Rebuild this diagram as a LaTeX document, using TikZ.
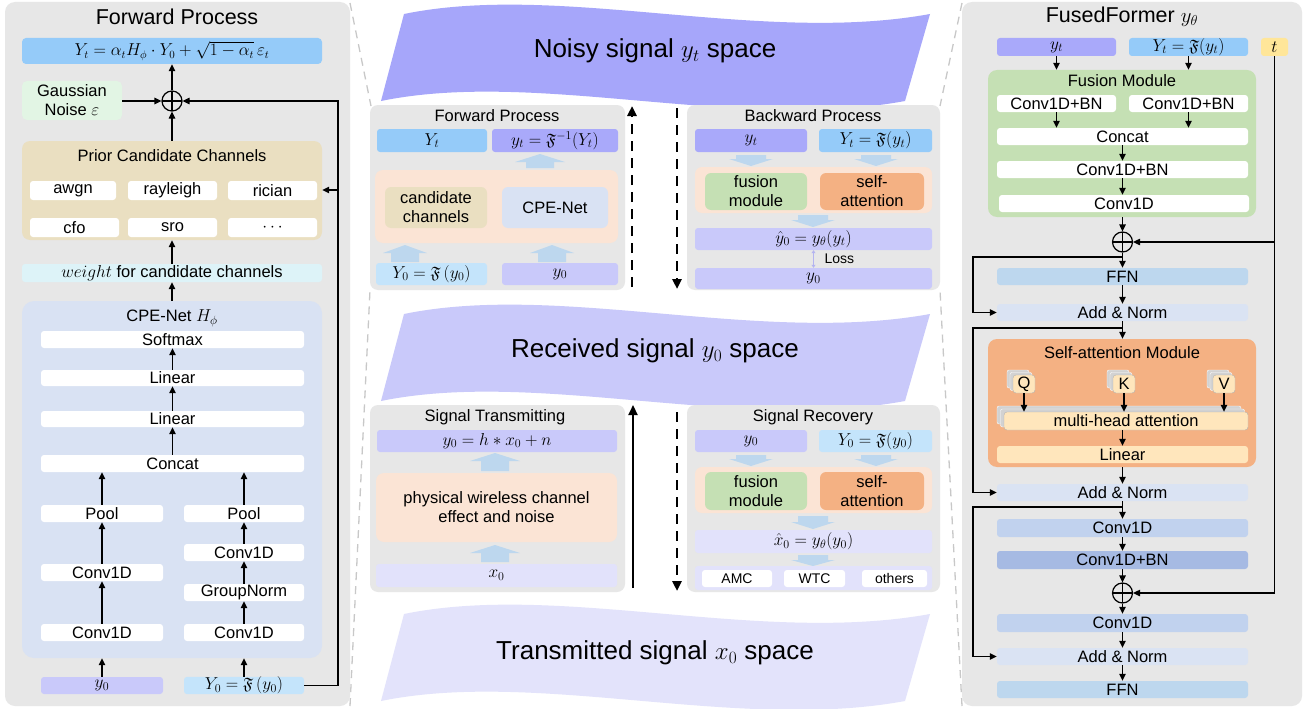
\documentclass[tikz,border=0pt]{standalone}
\usepackage{amssymb}
\usepackage{fontspec}
\setmainfont{Liberation Sans}
\usetikzlibrary{arrows.meta,calc}
\definecolor{panel}{HTML}{E7E7E7}
\definecolor{cBlue}{HTML}{95CBF9}
\definecolor{cPurple}{HTML}{A9A9FA}
\definecolor{cLav}{HTML}{C9C9FA}
\definecolor{cLight}{HTML}{E2E2FB}
\definecolor{cLBlue}{HTML}{C4E4FB}
\definecolor{cMint}{HTML}{E2F5E4}
\definecolor{cCyan}{HTML}{DDF3F8}
\definecolor{cKhaki}{HTML}{EADFC1}
\definecolor{cCPE}{HTML}{D9E2F3}
\definecolor{cPeach}{HTML}{FBE4D5}
\definecolor{cGreen}{HTML}{C5E0B4}
\definecolor{cOrange}{HTML}{F4B183}
\definecolor{cArrow}{HTML}{BDD7EE}
\definecolor{cFFN}{HTML}{BDD7EE}
\definecolor{cAN}{HTML}{DAE3F3}
\definecolor{cConv}{HTML}{C1D2EE}
\definecolor{cConvBN}{HTML}{A6BAE3}
\definecolor{cLinear}{HTML}{FFE6BC}
\definecolor{cYellow}{HTML}{FFE699}
\definecolor{cShadow}{HTML}{D2D2D2}
\definecolor{cDash}{HTML}{C8C8C8}
\definecolor{cRibA}{HTML}{A6A6FA}
\definecolor{cRibB}{HTML}{C9C9FA}
\definecolor{cRibC}{HTML}{E3E3FB}
\definecolor{cLoss}{HTML}{B4B4F0}
\newcommand\fs{\fontsize{16.5}{19}\selectfont}
\newcommand\fsmall{\fontsize{14}{16}\selectfont}
\newcommand\ftitle{\fontsize{21.5}{25}\selectfont}
\newcommand\frib{\fontsize{26}{30}\selectfont}
\tikzset{
  bx/.style={inner sep=0pt, align=center, rounded corners=3pt, font=\fs},
  ttl/.style={inner sep=0pt, font=\ftitle},
  arr/.style={-{Triangle[length=7pt,width=6.5pt]}, line width=1.2pt},
  op/.style={circle, draw, line width=1.2pt, minimum size=20pt, inner sep=0pt,
    path picture={\draw[line width=1.2pt] (path picture bounding box.north)--(path picture bounding box.south) (path picture bounding box.west)--(path picture bounding box.east);}},
  zoomline/.style={draw=cDash, line width=1.3pt, dash pattern=on 8pt off 6pt},
  bigdash/.style={line width=2.6pt, dash pattern=on 10pt off 7pt, -{Triangle[length=10pt,width=9pt]}},
}
\newcommand\bx[7]{\node[bx,#6,minimum width={#4-#2},minimum height={#5-#3}] (#1) at ({(#2+#4)/2},{(#3+#5)/2}) {#7};}
\newcommand\bup[6]{\fill[cArrow] ({#1-#4},#2) -- ({#1-#4},{#3+#6}) -- ({#1-#5},{#3+#6}) -- (#1,#3) -- ({#1+#5},{#3+#6}) -- ({#1+#4},{#3+#6}) -- ({#1+#4},#2) -- cycle;}
\newcommand\bdown[6]{\fill[cArrow] ({#1-#4},#2) -- ({#1-#4},{#3-#6}) -- ({#1-#5},{#3-#6}) -- (#1,#3) -- ({#1+#5},{#3-#6}) -- ({#1+#4},{#3-#6}) -- ({#1+#4},#2) -- cycle;}
\newcommand\ribbon[2]{\fill[#2] (404,{14+#1}) .. controls (560,{-18+#1}) and (760,{45+#1}) .. (930,{14+#1}) -- (905,{101+#1}) .. controls (737,{132+#1}) and (537,{69+#1}) .. (381,{101+#1}) -- cycle;}
\newcommand\qkv[4]{%
  \fill[cShadow,draw=white,rounded corners=2pt] ({#2-17},{#3-14}) rectangle ({#2+5},{#3+4});
  \fill[cShadow,draw=white,rounded corners=2pt] ({#2-14},{#3-11.5}) rectangle ({#2+8},{#3+6.5});
  \node[bx,fill=cLinear,draw=gray!60,minimum width=22,minimum height=18] (#1) at (#2,#3) {#4};}
\begin{document}
\begin{tikzpicture}[x=1pt,y=-1pt]
\useasboundingbox (0,0) rectangle (1307,709);
\fill[white] (0,0) rectangle (1307,709);
% zoom dashed lines
\draw[zoomline] (350,3) -- (371,106);
\draw[zoomline] (350,706) -- (370,290);
\draw[zoomline] (962,3) -- (940,106);
\draw[zoomline] (962,706) -- (940,290);
% ribbons
\ribbon{0}{cRibA}
\ribbon{300}{cRibB}
\ribbon{600}{cRibC}
\node[font=\frib] (ribA) at (655,51) {Noisy signal $y_t$ space};
\node[font=\frib] (ribB) at (655,351) {Received signal $y_0$ space};
\node[font=\frib] (ribC) at (655,653) {Transmitted signal $x_0$ space};

% ================= LEFT PANEL =================
\fill[panel,rounded corners=10pt] (5,2) rectangle (350,706);
\node[ttl] (lt) at (177,17) {Forward Process};
\bx{fml}{22}{38}{322}{64}{fill=cBlue,rounded corners=4pt}{\fontsize{16}{18}\selectfont$Y_t=\alpha_t H_\phi\cdot Y_0+\sqrt{1-\alpha_t}\,\varepsilon_t$}
\node[op] (op1) at (172,101) {};
\bx{gn}{22}{81}{122}{120}{fill=cMint,rounded corners=5pt}{Gaussian\\Noise $\varepsilon$}
\bx{prior}{22}{141}{322}{240}{fill=cKhaki,rounded corners=8pt}{}
\node[font=\fs] (priort) at (172,156) {Prior Candidate Channels};
\bx{awgn}{30}{181}{116}{200}{fill=white}{awgn}
\bx{ray}{128}{181}{217}{200}{fill=white}{rayleigh}
\bx{ric}{228}{181}{317}{200}{fill=white}{rician}
\bx{cfo}{30}{218}{119}{237}{fill=white}{cfo}
\bx{sro}{128}{218}{217}{237}{fill=white}{sro}
\bx{dots}{228}{218}{317}{237}{fill=white}{$\cdots$}
\bx{wt}{22}{264}{322}{282}{fill=cCyan}{$weight$ for candidate channels}
\bx{cpe}{22}{301}{322}{658}{fill=cCPE,rounded corners=12pt}{}
\node[font=\fs] (cpet) at (172,318) {CPE-Net $H_\phi$};
\bx{soft}{41}{331}{304}{348}{fill=white}{Softmax}
\bx{linA}{41}{370}{304}{386}{fill=white}{Linear}
\bx{linB}{41}{411}{304}{427}{fill=white}{Linear}
\bx{concat}{41}{455}{304}{472}{fill=white}{Concat}
\bx{poolL}{41}{505}{163}{522}{fill=white}{Pool}
\bx{convLA}{41}{564}{163}{581}{fill=white}{Conv1D}
\bx{convLB}{41}{624}{163}{641}{fill=white}{Conv1D}
\bx{poolR}{184}{505}{304}{522}{fill=white}{Pool}
\bx{convRA}{184}{544}{304}{561}{fill=white}{Conv1D}
\bx{gnorm}{184}{584}{304}{601}{fill=white}{GroupNorm}
\bx{convRB}{184}{624}{304}{641}{fill=white}{Conv1D}
\bx{y0in}{41}{677}{163}{694}{fill=cLav}{$y_0$}
\bx{Y0in}{184}{677}{304}{694}{fill=cLBlue}{$Y_0=\mathfrak{F}\,(y_0)$}
% arrows left
\draw[arr] (op1.north) -- (op1.north |- fml.south);
\draw[arr] (gn.east |- op1) -- (op1.west);
\draw[arr] (op1.south |- prior.north) -- (op1.south);
\draw[arr] (wt.north) -- (prior.south);
\draw[arr] (cpe.north) -- (wt.south);
\draw[arr] (linA.north) -- (soft.south);
\draw[arr] (linB.north) -- (linA.south);
\draw[arr] (concat.north) -- (linB.south);
\draw[arr] (poolL.north) -- (poolL.north |- concat.south);
\draw[arr] (poolR.north) -- (poolR.north |- concat.south);
\draw[arr] (convLA.north) -- (poolL.south);
\draw[arr] (convLB.north) -- (convLA.south);
\draw[arr] (convRA.north) -- (poolR.south);
\draw[arr] (gnorm.north) -- (convRA.south);
\draw[arr] (convRB.north) -- (gnorm.south);
\draw[arr] (y0in.north) -- (y0in.north |- cpe.south);
\draw[arr] (Y0in.north) -- (Y0in.north |- cpe.south);
\coordinate (rc) at (338,101);
\coordinate (rj) at (338,190);
\draw[arr] (Y0in.east) -| (rc) -- (op1.east);
\draw[arr] (rj) -- (rj -| prior.east);

% ================= MIDDLE: FORWARD =================
\fill[panel,rounded corners=8pt] (370,105) rectangle (625,290);
\node[font=\fs] (fwt) at (497,116) {Forward Process};
\bx{fYt}{377}{129}{487}{152}{fill=cBlue}{$Y_t$}
\bx{fyt}{492}{129}{618}{152}{fill=cPurple}{$y_t=\mathfrak{F}^{-1}(Y_t)$}
\bx{fpeach}{375}{170}{618}{243}{fill=cPeach,rounded corners=8pt}{}
\bx{cand}{385}{187}{487}{228}{fill=cKhaki,rounded corners=6pt}{candidate\\channels}
\bx{cpeb}{502}{187}{608}{228}{fill=cCPE,rounded corners=6pt}{CPE-Net}
\bx{fY0}{376}{263}{487}{285}{fill=cLBlue}{$Y_0=\mathfrak{F}\,(y_0)$}
\bx{fy0}{502}{263}{618}{285}{fill=cLav}{$y_0$}
\bup{540}{168}{154}{14}{25}{8}
\bup{405}{262}{245}{14}{22}{8}
\bup{552}{262}{245}{14}{22}{8}
\coordinate (dA1) at (632,287);
\coordinate (dA2) at (632,106);
\draw[bigdash] (dA1) -- (dA2);
\coordinate (dB1) at (677,108);
\coordinate (dB2) at (677,289);
\draw[bigdash] (dB1) -- (dB2);

% ================= MIDDLE: BACKWARD =================
\fill[panel,rounded corners=8pt] (687,105) rectangle (940,290);
\node[font=\fs] (bwt) at (813,116) {Backward Process};
\bx{byt}{695}{129}{807}{152}{fill=cPurple}{$y_t$}
\bx{bYt}{819}{129}{932}{152}{fill=cBlue}{$Y_t=\mathfrak{F}(y_t)$}
\bdown{751}{155}{166}{15}{22}{7}
\bdown{876}{155}{166}{15}{22}{7}
\bx{bpeach}{695}{167}{932}{213}{fill=cPeach,rounded corners=7pt}{}
\bx{bfus}{705}{173}{807}{210}{fill=cGreen,rounded corners=6pt}{fusion\\module}
\bx{bsa}{820}{173}{924}{210}{fill=cOrange,rounded corners=6pt}{self-\\attention}
\bdown{813}{215}{227}{15}{22}{7}
\bx{byhat}{695}{228}{932}{250}{fill=cLav}{$\hat y_0=y_\theta(y_t)$}
\bx{by0}{695}{268}{932}{289}{fill=cLav}{$y_0$}
\draw[cLoss,line width=1.5pt,{Triangle[length=3pt,width=4pt]}-{Triangle[length=3pt,width=4pt]}] (byhat.south) -- (by0.north);
\node[font=\fsmall,anchor=west] (loss) at (821,259) {Loss};

% ================= MIDDLE: TRANSMIT =================
\fill[panel,rounded corners=8pt] (370,405) rectangle (625,592);
\node[font=\fs] (stt) at (495,417) {Signal Transmitting};
\bx{st1}{377}{430}{617}{452}{fill=cLav}{$y_0=h*x_0+n$}
\bx{tpeach}{376}{473}{617}{542}{fill=cPeach,rounded corners=8pt}{physical wireless channel\\effect and noise}
\bx{x0}{376}{564}{617}{587}{fill=cLight}{$x_0$}
\bup{495}{471}{453}{14}{25}{8}
\bup{495}{562}{545}{14}{25}{8}
\coordinate (sA1) at (633,588);
\coordinate (sA2) at (633,405);
\draw[line width=2.2pt,-{Triangle[length=10pt,width=9pt]}] (sA1) -- (sA2);
\coordinate (dC1) at (677,412);
\coordinate (dC2) at (677,591);
\draw[bigdash] (dC1) -- (dC2);

% ================= MIDDLE: RECOVERY =================
\fill[panel,rounded corners=8pt] (687,405) rectangle (940,592);
\node[font=\fs] (srt) at (813,417) {Signal Recovery};
\bx{ry0}{695}{430}{807}{452}{fill=cLav}{$y_0$}
\bx{rY0}{819}{430}{932}{452}{fill=cLBlue}{$Y_0=\mathfrak{F}(y_0)$}
\bdown{751}{455}{466}{15}{22}{7}
\bdown{876}{455}{466}{15}{22}{7}
\bx{rpeach}{695}{467}{932}{513}{fill=cPeach,rounded corners=7pt}{}
\bx{rfus}{705}{472}{807}{510}{fill=cGreen,rounded corners=6pt}{fusion\\module}
\bx{rsa}{820}{472}{924}{510}{fill=cOrange,rounded corners=6pt}{self-\\attention}
\bdown{813}{516}{529}{15}{22}{7}
\bx{rxhat}{695}{530}{932}{553}{fill=cLight}{$\hat x_0=y_\theta(y_0)$}
\bdown{813}{555}{566}{15}{22}{6}
\bx{rrow}{695}{566}{932}{590}{fill=cLight}{}
\bx{amc}{702}{570}{772}{587}{fill=white,font=\fsmall}{AMC}
\bx{wtc}{784}{570}{845}{587}{fill=white,font=\fsmall}{WTC}
\bx{oth}{862}{570}{927}{587}{fill=white,font=\fsmall}{others}

% ================= RIGHT PANEL =================
\fill[panel,rounded corners=10pt] (962,2) rectangle (1302,706);
\node[ttl] (rt) at (1122,17) {FusedFormer $y_\theta$};
\bx{in1}{997}{38}{1116}{56}{fill=cPurple}{$y_t$}
\bx{in2}{1129}{38}{1248}{56}{fill=cBlue}{$Y_t=\mathfrak{F}(y_t)$}
\bx{tin}{1261}{38}{1288}{56}{fill=cYellow}{$t$}
\bx{fm}{988}{70}{1256}{217}{fill=cGreen,rounded corners=9pt}{}
\node[font=\fs] (fmt) at (1122,81) {Fusion Module};
\bx{c1}{997}{95}{1116}{112}{fill=white}{Conv1D+BN}
\bx{c2}{1129}{95}{1248}{112}{fill=white}{Conv1D+BN}
\bx{cat}{997}{128}{1248}{145}{fill=white}{Concat}
\bx{cbn}{997}{161}{1248}{178}{fill=white}{Conv1D+BN}
\bx{cv}{999}{195}{1249}{212}{fill=white}{Conv1D}
\node[op] (op2) at (1122.5,242) {};
\bx{ffnA}{997}{268}{1248}{285}{fill=cFFN}{FFN}
\bx{anA}{997}{304}{1248}{321}{fill=cAN}{Add \& Norm}
\bx{sam}{988}{339}{1256}{467}{fill=cOrange,rounded corners=9pt}{}
\node[font=\fs] (samt) at (1122,353) {Self-attention Module};
\qkv{Q}{1024}{384}{Q}
\qkv{K}{1124}{384}{K}
\qkv{V}{1224}{384}{V}
\fill[cShadow,draw=white,rounded corners=2pt] (997,406) rectangle (1241,424);
\fill[cShadow,draw=white,rounded corners=2pt] (1000.5,409) rectangle (1244.5,427);
\bx{mha}{1004}{412}{1248}{430}{fill=cLinear,draw=gray!60}{multi-head attention}
\bx{lin}{997}{446}{1248}{463}{fill=cLinear}{Linear}
\bx{anB}{997}{484}{1248}{501}{fill=cAN}{Add \& Norm}
\bx{cvA}{997}{519}{1248}{537}{fill=cConv}{Conv1D}
\bx{cvBN}{997}{551}{1248}{569}{fill=cConvBN}{Conv1D+BN}
\node[op] (op3) at (1122.5,593) {};
\bx{cvB}{997}{614}{1248}{632}{fill=cConv}{Conv1D}
\bx{anC}{997}{648}{1248}{665}{fill=cAN}{Add \& Norm}
\bx{ffnB}{997}{681}{1248}{698}{fill=cFFN}{FFN}
% right arrows
\draw[arr] (in1.south) -- (in1.south |- fm.north);
\draw[arr] (in2.south) -- (in2.south |- fm.north);
\draw[arr] (c1.south) -- (c1.south |- cat.north);
\draw[arr] (c2.south) -- (c2.south |- cat.north);
\draw[arr] (op2 |- cat.south) -- (op2 |- cbn.north);
\draw[arr] (op2 |- cbn.south) -- (op2 |- cv.north);
\draw[arr] (op2 |- fm.south) -- (op2.north);
\draw[arr] (op2.south) -- (op2 |- ffnA.north);
\draw[arr] (op2 |- ffnA.south) -- (op2 |- anA.north);
\draw[arr] (op2 |- anA.south) -- (op2 |- sam.north);
\draw[arr] (Q.south) -- (Q.south |- mha.north);
\draw[arr] (K.south) -- (K.south |- mha.north);
\draw[arr] (V.south) -- (V.south |- mha.north);
\draw[arr] (op2 |- mha.south) -- (op2 |- lin.north);
\draw[arr] (op2 |- sam.south) -- (op2 |- anB.north);
\draw[arr] (op2 |- anB.south) -- (op2 |- cvA.north);
\draw[arr] (op2 |- cvA.south) -- (op2 |- cvBN.north);
\draw[arr] (op3 |- cvBN.south) -- (op3.north);
\draw[arr] (op3.south) -- (op3 |- cvB.north);
\draw[arr] (op3 |- cvB.south) -- (op3 |- anC.north);
\draw[arr] (op3 |- anC.south) -- (op3 |- ffnB.north);
\draw[arr] (tin.south) |- (op2.east);
\draw[arr] (tin.south) |- (op3.east);
\coordinate (rA) at (1122.5,257);
\coordinate (rB) at (1122.5,328);
\coordinate (rC) at (1122.5,507);
\draw[arr] (rA) -| (973,312.5) -- (anA.west);
\draw[arr] (rB) -| (973,492.5) -- (anB.west);
\draw[arr] (rC) -| (973,656.5) -- (anC.west);
\end{tikzpicture}
\end{document}
